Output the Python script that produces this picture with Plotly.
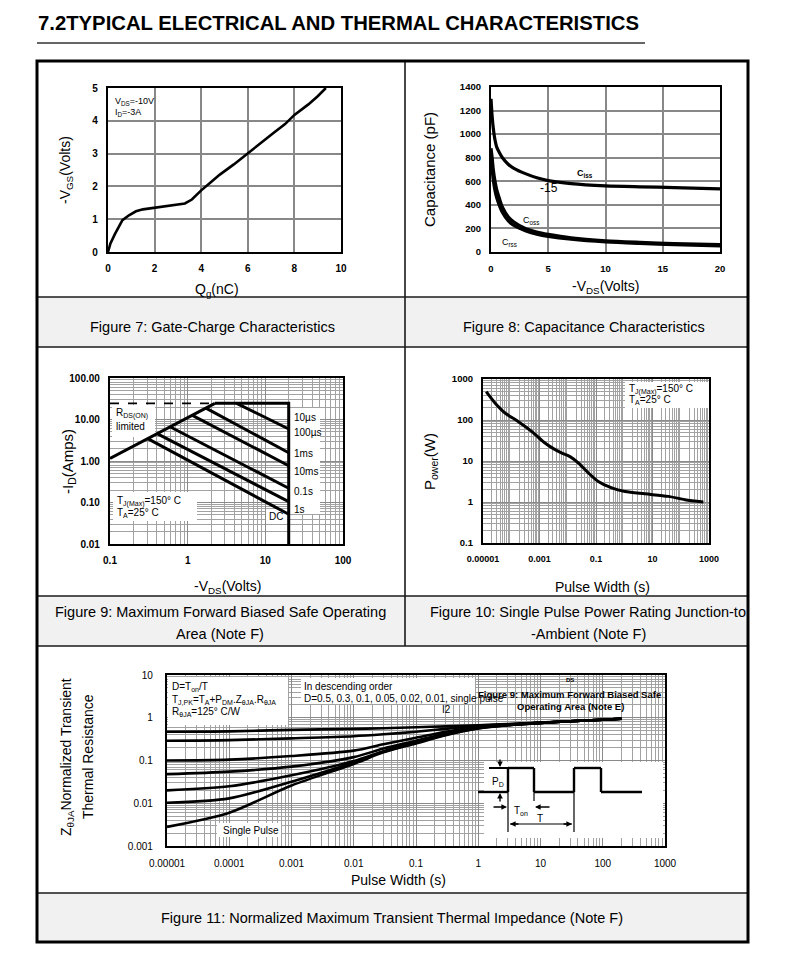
import plotly.graph_objects as go

# The page body keeps its default 8px margin, so the figure is drawn 8px in
# from the window corner; all geometry below is given in window pixels.
OFF = 8
W, H = 790, 976
FW, FH = W - 2 * OFF, H - 2 * OFF
FONT = "Liberation Sans, Arial, sans-serif"

# ---------------- data ----------------
# Figure 7: gate charge
QG_NC = [0, 0.1, 0.3, 0.62, 0.9, 1.2, 1.5, 1.9, 2.5, 3.0, 3.3, 3.6, 4.0, 4.4, 4.8,
         5.4, 5.9, 6.5, 7.1, 7.6, 8.0, 8.6, 9.0, 9.35]
VGS_V = [0, 0.25, 0.55, 0.97, 1.12, 1.24, 1.3, 1.34, 1.38, 1.43, 1.48, 1.6, 1.88,
         2.12, 2.36, 2.67, 2.96, 3.3, 3.63, 3.9, 4.18, 4.5, 4.75, 5.0]

# Figure 8: capacitance
VDS_CAP = [0, 0.1, 0.2, 0.35, 0.5, 0.75, 1, 1.5, 2, 3, 4, 5, 7, 10, 13, 16, 20]
C_ISS = [1300, 1150, 1050, 950, 890, 840, 800, 745, 710, 665, 630, 606, 580, 561, 553, 547, 535]
C_OSS = [880, 800, 700, 600, 530, 450, 380, 300, 255, 200, 170, 150, 120, 95, 82, 72, 62]
C_RSS = [780, 700, 610, 520, 460, 390, 335, 265, 225, 180, 152, 133, 108, 85, 72, 62, 52]

# Figure 9: safe operating area
SOA_RDS_V = [0.1, 2.24]
SOA_RDS_I = [1.15, 24.5]
SOA_DASH_V = [0.1, 2.24]
SOA_DASH_I = [24.5, 24.5]
SOA_BOUND_V = [2.24, 20, 20]
SOA_BOUND_I = [24.5, 24.5, 0.01]
SOA_10US_V = [4.27, 20]
SOA_10US_I = [24.5, 5.9]
SOA_100US_V = [1.72, 20]
SOA_100US_I = [18.8, 1.58]
SOA_1MS_V = [1.15, 20]
SOA_1MS_I = [12.6, 0.77]
SOA_10MS_V = [0.6, 20]
SOA_10MS_I = [6.6, 0.22]
SOA_100MS_V = [0.41, 20]
SOA_100MS_I = [4.5, 0.105]
SOA_DC_V = [0.31, 20]
SOA_DC_I = [3.4, 0.052]

# Figure 10: single pulse power
PW_S = [1.3e-5, 2.7e-5, 6.2e-5, 1.8e-4, 5.4e-4, 1.4e-3, 3.1e-3, 6.2e-3, 0.012, 0.024,
        0.054, 0.12, 0.36, 1.07, 5.4, 36, 141, 630]
PPK_W = [490, 257, 146, 91, 52, 29, 20, 15.6, 12.8, 8.9, 5.1, 3.16, 2.2, 1.8, 1.58,
         1.37, 1.14, 1.0]

# Figure 11: normalized transient thermal impedance
ZT_PW = [1e-5, 1e-4, 1e-3, 1e-2, 0.03, 0.1, 0.3, 1, 3, 10, 30, 100, 200]
Z_D050 = [0.47, 0.48, 0.52, 0.55, 0.57, 0.6, 0.63, 0.67, 0.71, 0.77, 0.83, 0.9, 0.95]
Z_D030 = [0.29, 0.30, 0.33, 0.37, 0.41, 0.47, 0.55, 0.64, 0.70, 0.76, 0.83, 0.9, 0.95]
Z_D010 = [0.10, 0.105, 0.127, 0.17, 0.24, 0.34, 0.47, 0.61, 0.69, 0.76, 0.83, 0.9, 0.95]
Z_D005 = [0.048, 0.055, 0.072, 0.12, 0.19, 0.29, 0.43, 0.59, 0.68, 0.76, 0.83, 0.9, 0.95]
Z_D002 = [0.02, 0.025, 0.045, 0.097, 0.165, 0.27, 0.41, 0.58, 0.68, 0.76, 0.83, 0.9, 0.95]
Z_D001 = [0.0103, 0.013, 0.032, 0.09, 0.16, 0.26, 0.40, 0.57, 0.67, 0.76, 0.83, 0.9, 0.95]
Z_SINGLE = [0.0028, 0.006, 0.026, 0.083, 0.155, 0.25, 0.39, 0.56, 0.67, 0.76, 0.83, 0.9, 0.95]

# tick labels
F7_XT = [0, 2, 4, 6, 8, 10]
F7_YT = [0, 1, 2, 3, 4, 5]
F8_XT = [0, 5, 10, 15, 20]
F8_YT = [0, 200, 400, 600, 800, 1000, 1200, 1400]
F9_XT = [0.1, 1, 10, 100]
F9_XL = ["0.1", "1", "10", "100"]
F9_YT = [0.01, 0.1, 1, 10, 100]
F9_YL = ["0.01", "0.10", "1.00", "10.00", "100.00"]
F10_XT = [1e-5, 1e-3, 1e-1, 10, 1000]
F10_XL = ["0.00001", "0.001", "0.1", "10", "1000"]
F10_YT = [0.1, 1, 10, 100, 1000]
F10_YL = ["0.1", "1", "10", "100", "1000"]
F11_XT = [1e-5, 1e-4, 1e-3, 1e-2, 0.1, 1, 10, 100, 1000]
F11_XL = ["0.00001", "0.0001", "0.001", "0.01", "0.1", "1", "10", "100", "1000"]
F11_YT = [0.001, 0.01, 0.1, 1, 10]
F11_YL = ["0.001", "0.01", "0.1", "1", "10"]

# ---------------- layout geometry (window pixels) ----------------
BOX = {1: (108, 341, 88, 252), 2: (491, 720, 87, 252), 3: (110, 343, 378, 544),
       4: (483, 709, 379, 543), 5: (167, 665, 675, 846)}
# axis ranges (lo, hi, is_log) in axis units
RNG = {1: ((0, 10, False), (0, 5, False)), 2: ((0, 20, False), (0, 1400, False)),
       3: ((-1, 2, True), (-2, 2, True)), 4: ((-5, 3, True), (-1, 3, True)),
       5: ((-5, 3, True), (-3, 1, True))}


def P(x, y):
    return (x - OFF) / FW, 1 - (y - OFF) / FH


def xdom(k):
    b = BOX[k]
    return [P(b[0], 0)[0], P(b[1], 0)[0]]


def ydom(k):
    b = BOX[k]
    return [P(0, b[3])[1], P(0, b[2])[1]]


def ref(k):
    return ("x" if k == 1 else f"x{k}"), ("y" if k == 1 else f"y{k}")


def to_data(k, x, y):
    b = BOX[k]
    (xl, xh, xlog), (yl, yh, ylog) = RNG[k]
    fx = (x - b[0]) / (b[1] - b[0])
    fy = (b[3] - y) / (b[3] - b[2])
    vx = xl + fx * (xh - xl)
    vy = yl + fy * (yh - yl)
    return (10 ** vx if xlog else vx), (10 ** vy if ylog else vy)


fig = go.Figure()


def line(k, x, y, width=2.5, dash="solid", smooth=False):
    xr, yr = ref(k)
    ln = dict(color="black", width=width, dash=dash)
    if smooth:
        ln.update(shape="spline", smoothing=0.8)
    fig.add_trace(go.Scatter(x=x, y=y, xaxis=xr, yaxis=yr, mode="lines", line=ln,
                             hoverinfo="skip"))


line(1, QG_NC, VGS_V, 2.6)
for c in (C_ISS, C_OSS, C_RSS):
    line(2, VDS_CAP, c, 3.2, smooth=True)
line(3, SOA_DASH_V, SOA_DASH_I, 1.8, "dash")
line(3, SOA_RDS_V, SOA_RDS_I, 3)
line(3, SOA_BOUND_V, SOA_BOUND_I, 3)
for vx, iy in ((SOA_10US_V, SOA_10US_I), (SOA_100US_V, SOA_100US_I), (SOA_1MS_V, SOA_1MS_I),
               (SOA_10MS_V, SOA_10MS_I), (SOA_100MS_V, SOA_100MS_I), (SOA_DC_V, SOA_DC_I)):
    line(3, vx, iy, 3)
line(4, PW_S, PPK_W, 3, smooth=True)
for z in (Z_D050, Z_D030, Z_D010, Z_D005, Z_D002, Z_D001, Z_SINGLE):
    line(5, ZT_PW, z, 2.6, smooth=True)


def log_minor(lo, hi):
    return [m * 10 ** e for e in range(lo, hi) for m in range(2, 10)]


def axis(k, kind, **kw):
    xr, yr = ref(k)
    d = dict(showline=True, linecolor="black", linewidth=2.2, mirror=True, ticks="",
             zeroline=False, showgrid=True, gridcolor="#888888", gridwidth=1.5,
             automargin=False,
             tickfont=dict(family=FONT, size=10, color="black", weight="bold"))
    if kind == "x":
        d.update(domain=xdom(k), anchor=yr)
    else:
        d.update(domain=ydom(k), anchor=xr)
    d.update(kw)
    return d


lay = {}
lay["xaxis"] = axis(1, "x", range=[0, 10], tickvals=F7_XT, ticklabelstandoff=6)
lay["yaxis"] = axis(1, "y", range=[0, 5], tickvals=F7_YT, ticklabelstandoff=6)
lay["xaxis2"] = axis(2, "x", range=[0, 20], tickvals=F8_XT, ticklabelstandoff=6,
                     tickfont=dict(family=FONT, size=9.5, color="black", weight="bold"))
lay["yaxis2"] = axis(2, "y", range=[0, 1400], tickvals=F8_YT, ticklabelstandoff=6,
                     tickfont=dict(family=FONT, size=9.5, color="black", weight="bold"))

MINOR_GRID = dict(showgrid=True, gridcolor="#a2a2a2", gridwidth=1, ticks="")
LOGMAJ = dict(gridcolor="#8a8a8a", gridwidth=1.2)
lay["xaxis3"] = axis(3, "x", type="log", range=[-1, 2], tickvals=F9_XT, ticktext=F9_XL,
                     ticklabelstandoff=6, minor=dict(tickvals=log_minor(-1, 2), **MINOR_GRID),
                     **LOGMAJ)
lay["yaxis3"] = axis(3, "y", type="log", range=[-2, 2], tickvals=F9_YT, ticktext=F9_YL,
                     ticklabelstandoff=6, minor=dict(tickvals=log_minor(-2, 2), **MINOR_GRID),
                     **LOGMAJ)
lay["xaxis4"] = axis(4, "x", type="log", range=[-5, 3], tickvals=F10_XT, ticktext=F10_XL,
                     ticklabelstandoff=6, minor=dict(tickvals=log_minor(-5, 3), **MINOR_GRID),
                     tickfont=dict(family=FONT, size=9, color="black", weight="bold"), **LOGMAJ)
lay["yaxis4"] = axis(4, "y", type="log", range=[-1, 3], tickvals=F10_YT, ticktext=F10_YL,
                     ticklabelstandoff=6, minor=dict(tickvals=log_minor(-1, 3), **MINOR_GRID),
                     tickfont=dict(family=FONT, size=9.5, color="black", weight="bold"), **LOGMAJ)
lay["xaxis5"] = axis(5, "x", type="log", range=[-5, 3], tickvals=F11_XT, ticktext=F11_XL,
                     ticklabelstandoff=7, minor=dict(tickvals=log_minor(-5, 3), **MINOR_GRID),
                     tickfont=dict(family=FONT, size=10, color="black"), **LOGMAJ)
lay["yaxis5"] = axis(5, "y", type="log", range=[-3, 1], tickvals=F11_YT, ticktext=F11_YL,
                     ticklabelstandoff=10, minor=dict(tickvals=log_minor(-3, 1), **MINOR_GRID),
                     tickfont=dict(family=FONT, size=10, color="black"), **LOGMAJ)

shapes = []
annotations = []


def paper_line(x0, y0, x1, y1, w=1.5, color="#1a1a1a"):
    a, b = P(x0, y0)
    c, d = P(x1, y1)
    shapes.append(dict(type="line", xref="paper", yref="paper", x0=a, y0=b, x1=c, y1=d,
                       line=dict(color=color, width=w), layer="above"))


def paper_rect(x0, y0, x1, y1, fill):
    a, b = P(x0, y0)
    c, d = P(x1, y1)
    shapes.append(dict(type="rect", xref="paper", yref="paper", x0=a, y0=d, x1=c, y1=b,
                       fillcolor=fill, line=dict(width=0), layer="below"))


def dom(k, x, y):
    b = BOX[k]
    return (x - b[0]) / (b[1] - b[0]), (b[3] - y) / (b[3] - b[2])


def white_box(k, x0, y0, x1, y1):
    xr, yr = ref(k)
    a, b = to_data(k, x0, y0)
    c, d = to_data(k, x1, y1)
    shapes.append(dict(type="rect", xref=xr, yref=yr,
                       x0=a, y0=d, x1=c, y1=b, fillcolor="white", line=dict(width=0),
                       layer="between"))


def dom_line(k, x0, y0, x1, y1, w=2.2):
    xr, yr = ref(k)
    a, b = dom(k, x0, y0)
    c, d = dom(k, x1, y1)
    shapes.append(dict(type="line", xref=xr + " domain", yref=yr + " domain",
                       x0=a, y0=b, x1=c, y1=d, line=dict(color="black", width=w),
                       layer="above"))


def text(x, y, s, size=10, xa="left", ya="middle", angle=0, bold=False, color="black"):
    a, b = P(x, y)
    annotations.append(dict(x=a, y=b, xref="paper", yref="paper", text=s, showarrow=False,
                            xanchor=xa, yanchor=ya, textangle=angle, borderpad=0,
                            font=dict(family=FONT, size=size, color=color,
                                      weight="bold" if bold else "normal")))


def arrow(xh, yh, ax, ay):
    a, b = P(xh, yh)
    annotations.append(dict(x=a, y=b, xref="paper", yref="paper", ax=ax, ay=ay, text="",
                            showarrow=True, arrowhead=2, arrowsize=0.8, arrowwidth=1.4,
                            arrowcolor="black"))


# ---- page frame ----
paper_rect(37, 297, 748, 347, "#f1f1f1")
paper_rect(37, 596, 748, 646, "#f1f1f1")
paper_rect(37, 893, 748, 942, "#f1f1f1")
for yy in (297, 347, 596, 646, 893):
    paper_line(37, yy, 748, yy, 1.6)
paper_line(405, 61, 405, 646, 1.6)
a0, b0 = P(37, 61)
a1, b1 = P(748, 942)
shapes.append(dict(type="rect", xref="paper", yref="paper", x0=a0, y0=b1, x1=a1, y1=b0,
                   line=dict(color="black", width=3), layer="above"))
paper_line(37, 43, 645, 43, 1.6, "#333333")
text(37, 23, "7.2TYPICAL ELECTRICAL AND THERMAL CHARACTERISTICS", 20.3, bold=True)

# ---- captions ----
CAP = 14.5
text(212, 327, "Figure 7: Gate-Charge Characteristics", CAP, "center")
text(584, 327, "Figure 8: Capacitance Characteristics", CAP, "center")
text(220, 612, "Figure 9: Maximum Forward Biased Safe Operating", CAP, "center")
text(220, 634, "Area (Note F)", CAP, "center")
text(588, 612, "Figure 10: Single Pulse Power Rating Junction-to", CAP, "center")
text(588, 634, "-Ambient (Note F)", CAP, "center")
text(392, 918, "Figure 11: Normalized Maximum Transient Thermal Impedance (Note F)", CAP, "center")

# ---- axis titles ----
text(66, 170, "-V<sub>GS</sub>(Volts)", 14, "center", angle=-90)
text(217, 290, "Q<sub>g</sub>(nC)", 14, "center")
text(430, 170, "Capacitance (pF)", 15, "center", angle=-90)
text(605, 287, "-V<sub>DS</sub>(Volts)", 14, "center")
text(68, 462, "-I<sub>D</sub>(Amps)", 15, "center", angle=-90)
text(227, 587, "-V<sub>DS</sub>(Volts)", 14, "center")
text(430, 462, "P<sub>ower</sub>(W)", 15, "center", angle=-90)
text(602, 587, "Pulse Width (s)", 14, "center")
text(67, 757, "Z<sub>θJA</sub>Normalized Transient", 14, "center", angle=-90)
text(88, 757, "Thermal Resistance", 14, "center", angle=-90)
text(398, 880, "Pulse Width (s)", 14, "center")

# ---- figure 7 notes ----
text(114, 102, "V<sub>DS</sub>=-10V", 9)
text(114, 112, "I<sub>D</sub>=-3A", 9)

# ---- figure 8 labels ----
text(585, 173, "<b>C<sub>iss</sub></b>", 9, "center")
text(549, 188, "-15", 12, "center")
text(531, 220, "C<sub>oss</sub>", 9, "center")
text(509, 243, "C<sub>rss</sub>", 9, "center")

# ---- figure 9 labels ----
white_box(3, 112, 405, 155, 437)
white_box(3, 113, 492, 197, 521)
white_box(3, 290, 408, 320, 514)
white_box(3, 266, 510, 287, 521)
text(115, 414, "R<sub>DS(ON)</sub>", 10)
text(115, 426, "limited", 10)
text(116, 501, "T<sub>J(Max)</sub>=150° C", 10)
text(116, 513, "T<sub>A</sub>=25° C", 10)
for yy, s in ((417, "10µs"), (432, "100µs"), (453, "1ms"), (471, "10ms"), (491, "0.1s"), (509, "1s")):
    text(293, yy, s, 10)
text(276, 516, "DC", 10, "center")

# ---- figure 10 label ----
white_box(4, 625, 382, 709, 408)
text(628, 389, "T<sub>J(Max)</sub>=150° C", 10)
text(628, 400, "T<sub>A</sub>=25° C", 10)

# ---- figure 11 labels ----
white_box(5, 168, 677, 288, 725)
white_box(5, 301, 678, 475, 704)
white_box(5, 217, 823, 281, 837)
white_box(5, 484, 762, 663, 838)
text(171, 687, "D=T<sub>on</sub>/T", 10)
text(171, 700, "T<sub>J,PK</sub>=T<sub>A</sub>+P<sub>DM</sub>.Z<sub>θJA</sub>.R<sub>θJA</sub>", 10)
text(171, 712, "R<sub>θJA</sub>=125° C/W", 10)
text(303, 686, "In descending order", 10)
text(303, 698, "D=0.5, 0.3, 0.1, 0.05, 0.02, 0.01, single pulse", 10)
text(570, 680, "DS", 6, "center", bold=True)
text(569, 694, "Figure 9: Maximum Forward Biased Safe", 9.5, "center", bold=True)
text(570, 706, "Operating Area (Note E)", 9.5, "center", bold=True)
text(446, 709, "I2", 10, "center")
text(222, 830, "Single Pulse", 10)

# pulse waveform sketch (window-pixel geometry of the inset diagram)
WAVE = [(478, 792), (508, 792), (508, 768), (534, 768), (534, 792), (574, 792),
        (574, 768), (601, 768), (601, 792), (642, 792)]
for (xa, ya), (xb, yb) in zip(WAVE[:-1], WAVE[1:]):
    dom_line(5, xa, ya, xb, yb, 2.4)
dom_line(5, 489, 768, 508, 768, 2.0)
dom_line(5, 508, 792, 508, 832, 1.2)
dom_line(5, 574, 792, 574, 832, 1.2)
dom_line(5, 534, 792, 534, 801, 1.2)
dom_line(5, 510, 824, 572, 824, 1.2)
arrow(500, 767, 0, -9)
arrow(500, 793, 0, 10)
arrow(507, 807, -15, 0)
arrow(535, 807, 16, 0)
arrow(510, 824, 10, 0)
arrow(572, 824, -10, 0)
text(498, 782, "P<sub>D</sub>", 10, "center")
text(521, 811, "T<sub>on</sub>", 10, "center")
text(540, 818, "T", 10, "center")

fig.update_layout(width=FW, height=FH,
                  margin=dict(l=0, r=0, t=0, b=0, pad=0, autoexpand=False),
                  paper_bgcolor="white", plot_bgcolor="white", showlegend=False,
                  shapes=shapes, annotations=annotations, **lay)
fig.write_html("out.html")
